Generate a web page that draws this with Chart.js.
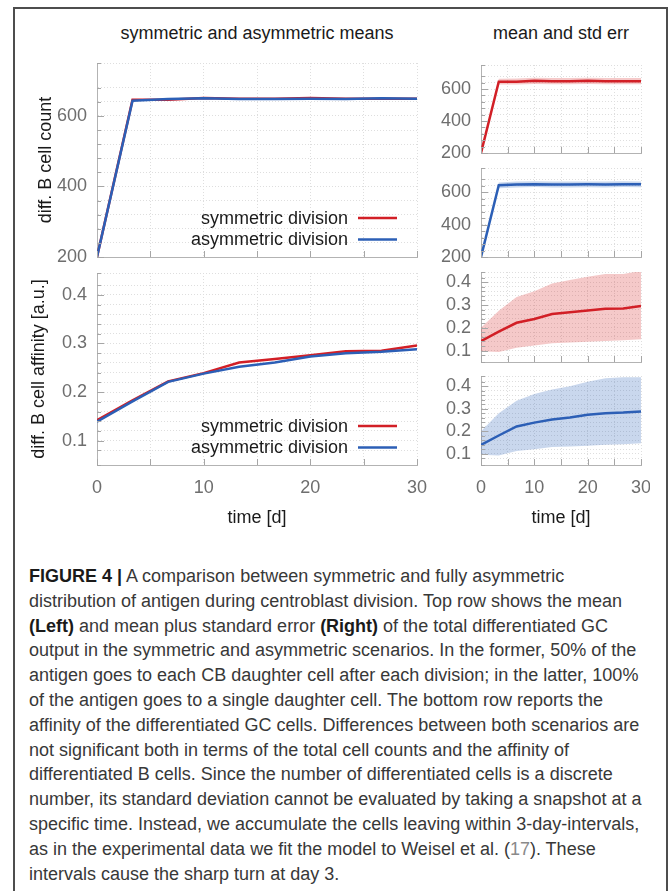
<!DOCTYPE html>
<html>
<head>
<meta charset="utf-8">
<script src="https://cdn.jsdelivr.net/npm/chart.js@4.4.1/dist/chart.umd.min.js"></script>
<style>
  html, body { margin: 0; padding: 0; background: #fff; }
  body {
    width: 670px; height: 891px; position: relative; overflow: hidden;
    font-family: "Liberation Sans", Arial, sans-serif;
  }
  .frame {
    position: absolute; left: 13px; top: 7px; width: 655px; height: 900px;
    border: 2px solid #4d4d4d; border-bottom: none; box-sizing: border-box;
  }
  .panel-title {
    position: absolute; top: 23px; font-size: 18px; line-height: 21px;
    color: #1a1a1a; transform: translateX(-50%); white-space: nowrap;
  }
  canvas.plot { position: absolute; }
  .caption {
    position: absolute; left: 29px; top: 564px;
    font-size: 18px; line-height: 24.8px; color: #383838;
  }
  .caption div { white-space: nowrap; }
  .caption b { color: #1a1a1a; }
  .caption .ref { color: #8a8a8a; }
</style>
</head>
<body>
<div class="frame"></div>

<div class="panel-title" style="left:257px">symmetric and asymmetric means</div>
<div class="panel-title" style="left:561px">mean and std err</div>

<canvas class="plot" id="count-means"></canvas>
<canvas class="plot" id="affinity-means"></canvas>
<canvas class="plot" id="count-sym"></canvas>
<canvas class="plot" id="count-asym"></canvas>
<canvas class="plot" id="affinity-sym"></canvas>
<canvas class="plot" id="affinity-asym"></canvas>

<div class="caption">
  <div><b>FIGURE 4 |</b> A comparison between symmetric and fully asymmetric</div>
  <div>distribution of antigen during centroblast division. Top row shows the mean</div>
  <div><b>(Left)</b> and mean plus standard error <b>(Right)</b> of the total differentiated GC</div>
  <div>output in the symmetric and asymmetric scenarios. In the former, 50% of the</div>
  <div>antigen goes to each CB daughter cell after each division; in the latter, 100%</div>
  <div>of the antigen goes to a single daughter cell. The bottom row reports the</div>
  <div>affinity of the differentiated GC cells. Differences between both scenarios are</div>
  <div>not significant both in terms of the total cell counts and the affinity of</div>
  <div>differentiated B cells. Since the number of differentiated cells is a discrete</div>
  <div>number, its standard deviation cannot be evaluated by taking a snapshot at a</div>
  <div>specific time. Instead, we accumulate the cells leaving within 3-day-intervals,</div>
  <div>as in the experimental data we fit the model to Weisel et al. (<span class="ref">17</span>). These</div>
  <div>intervals cause the sharp turn at day 3.</div>
</div>

<script>
// ── Data ────────────────────────────────────────────────────

const days = [0, 3.33, 6.67, 10, 13.33, 16.67, 20, 23.33, 26.67, 30];

const countSym  = [200, 646, 646, 651, 649, 649, 651, 649, 649, 649];
const countAsym = [200, 643, 648, 650, 648, 648, 649, 648, 650, 649];
const countSymHi  = [200, 664, 666, 670, 668, 668, 670, 668, 668, 668];
const countSymLo  = [200, 628, 628, 632, 630, 630, 632, 630, 630, 630];
const countAsymHi = [200, 661, 666, 668, 666, 666, 667, 666, 668, 667];
const countAsymLo = [200, 625, 630, 632, 630, 630, 631, 630, 632, 631];

const affSym  = [0.142, 0.183, 0.222, 0.239, 0.261, 0.268, 0.276, 0.284, 0.285, 0.296];
const affAsym = [0.139, 0.181, 0.221, 0.238, 0.252, 0.261, 0.273, 0.280, 0.283, 0.288];
const affSymHi  = [0.200, 0.275, 0.335, 0.360, 0.395, 0.410, 0.424, 0.436, 0.436, 0.450];
const affSymLo  = [0.097, 0.094, 0.112, 0.122, 0.132, 0.136, 0.139, 0.142, 0.145, 0.150];
const affAsymHi = [0.200, 0.280, 0.335, 0.365, 0.385, 0.400, 0.420, 0.435, 0.440, 0.440];
const affAsymLo = [0.096, 0.092, 0.112, 0.120, 0.130, 0.132, 0.135, 0.140, 0.142, 0.147];

const countTicks = [200, 400, 600];
const affinityTicks = [0.1, 0.2, 0.3, 0.4];
const timeTicks = [0, 10, 20, 30];

const SYM_LABEL = "symmetric division";
const ASYM_LABEL = "asymmetric division";

// ── Styling ─────────────────────────────────────────────────

const RED = "#d21f26";
const BLUE = "#2c5fb6";
const RED_BAND = "rgba(220, 60, 60, 0.28)";
const BLUE_BAND = "rgba(60, 110, 190, 0.28)";
const FONT = "'Liberation Sans', Arial, sans-serif";
const TICK_COLOR = "#6e6e6e";
const TEXT_COLOR = "#1a1a1a";

Chart.defaults.font.family = FONT;
Chart.defaults.font.size = 18;

// ── Helpers ─────────────────────────────────────────────────

function toPoints(values) {
  return values.map((v, i) => ({ x: days[i], y: v }));
}

// order: lower number is painted last, so blue sits on top of red
function lineDataset(label, values, color, order) {
  return {
    label, data: toPoints(values), inLegend: true, order,
    borderColor: color, borderWidth: 2.5, pointRadius: 0, fill: false, tension: 0,
  };
}

function bandDatasets(hi, lo, color) {
  return [
    { label: "upper", data: toPoints(hi), borderWidth: 0, pointRadius: 0,
      backgroundColor: color, fill: "+1", order: 5 },
    { label: "lower", data: toPoints(lo), borderWidth: 0, pointRadius: 0, fill: false, order: 5 },
  ];
}

function isListed(v, list) {
  return list.some(t => Math.abs(t - v) < 1e-6);
}

// fixed axis sizes so every panel lines up with its neighbours
function fixSize(size) {
  return scale => {
    if (scale.isHorizontal()) scale.height = size;
    else scale.width = size;
    scale.paddingLeft = scale.paddingRight = 0;
    scale.paddingTop = scale.paddingBottom = 0;
  };
}

// gnuplot-style ticks pointing into the plot
const innerTicks = {
  id: "innerTicks",
  afterDraw(chart) {
    const { ctx, chartArea: a, scales } = chart;
    ctx.save();
    ctx.strokeStyle = "#a6a6a6";
    ctx.lineWidth = 1;
    ctx.beginPath();
    scales.y.ticks.forEach(t => {
      const py = Math.round(scales.y.getPixelForValue(t.value)) + 0.5;
      ctx.moveTo(a.left, py);
      ctx.lineTo(a.left + (t.label ? 7 : 4), py);
    });
    scales.x.ticks.forEach(t => {
      const px = Math.round(scales.x.getPixelForValue(t.value)) + 0.5;
      ctx.moveTo(px, a.bottom);
      ctx.lineTo(px, a.bottom - 6);
    });
    ctx.stroke();
    ctx.restore();
  },
};

// key drawn inside the plot, lower right, like the original
const insideLegend = {
  id: "insideLegend",
  afterDraw(chart, args, opts) {
    if (!opts.show) return;
    const { ctx, chartArea: a } = chart;
    const items = chart.data.datasets.filter(d => d.inLegend);
    ctx.save();
    ctx.font = `18px ${FONT}`;
    ctx.textAlign = "right";
    ctx.textBaseline = "middle";
    items.forEach((d, i) => {
      const y = a.bottom - 39 + i * 21.5;
      ctx.fillStyle = TEXT_COLOR;
      ctx.fillText(d.label, a.right - 69, y + 1);
      ctx.strokeStyle = d.borderColor;
      ctx.lineWidth = 2.5;
      ctx.beginPath();
      ctx.moveTo(a.right - 59, y);
      ctx.lineTo(a.right - 20, y);
      ctx.stroke();
    });
    ctx.restore();
  },
};

function makePlot(id, box, cfg) {
  const canvas = document.getElementById(id);
  canvas.width = box.width;
  canvas.height = box.height;
  canvas.style.left = box.left + "px";
  canvas.style.top = box.top + "px";

  const gridStyle = { color: "#dedede", drawTicks: false, tickLength: 0 };
  const borderStyle = { color: "#b3b3b3", width: 1, dash: [1, 2] };

  return new Chart(canvas, {
    type: "line",
    data: { datasets: cfg.datasets },
    options: {
      responsive: false,
      animation: false,
      layout: { padding: { top: cfg.padTop, right: cfg.padRight, left: 0, bottom: 0 } },
      plugins: {
        legend: { display: false },
        tooltip: { enabled: false },
        insideLegend: { show: !!cfg.legend },
      },
      scales: {
        x: {
          type: "linear", min: 0, max: 30,
          grid: gridStyle, border: borderStyle,
          ticks: {
            display: cfg.showX, stepSize: 5, autoSkip: false, maxRotation: 0,
            color: TICK_COLOR, padding: 12,
            callback: v => (isListed(v, timeTicks) ? String(v) : ""),
          },
          title: {
            display: cfg.showX, text: "time [d]", color: TEXT_COLOR,
            padding: { top: 0, bottom: 1 },
          },
          afterFit: fixSize(cfg.xH),
        },
        y: {
          min: cfg.y.min, max: cfg.y.max,
          grid: gridStyle, border: borderStyle,
          ticks: {
            stepSize: cfg.y.step, autoSkip: false, color: TICK_COLOR, padding: 10,
            callback: v => (isListed(v, cfg.y.labels) ? cfg.y.format(v) : ""),
          },
          title: {
            display: !!cfg.yTitle, text: cfg.yTitle || "", color: TEXT_COLOR,
            padding: { top: cfg.yTitlePad || 0, bottom: 0 },
          },
          afterFit: fixSize(cfg.yW),
        },
      },
    },
    plugins: [innerTicks, insideLegend],
  });
}

// ── Panels ──────────────────────────────────────────────────

const countAxis = { min: 200, max: 750, step: 40, labels: countTicks, format: v => String(v) };
const affinityAxis = { min: 0.05, max: 0.445, step: 0.02, labels: affinityTicks, format: v => v.toFixed(1) };

// left column: both scenarios on one plot
const leftCol = { yW: 83, padTop: 8, padRight: 17 };

makePlot("count-means", { left: 14, top: 55, width: 420, height: 215 }, {
  ...leftCol, xH: 13, showX: false, legend: true,
  y: countAxis, yTitle: "diff. B cell count", yTitlePad: 21,
  datasets: [lineDataset(SYM_LABEL, countSym, RED, 2), lineDataset(ASYM_LABEL, countAsym, BLUE, 1)],
});

makePlot("affinity-means", { left: 14, top: 265, width: 420, height: 265 }, {
  ...leftCol, xH: 65, showX: true, legend: true,
  y: affinityAxis, yTitle: "diff. B cell affinity [a.u.]", yTitlePad: 14,
  datasets: [lineDataset(SYM_LABEL, affSym, RED, 2), lineDataset(ASYM_LABEL, affAsym, BLUE, 1)],
});

// right column: each scenario with its standard-error band
const rightCol = { yW: 45, padTop: 7, padRight: 9 };

makePlot("count-sym", { left: 436, top: 58, width: 214, height: 103 }, {
  ...rightCol, xH: 8, showX: false, y: countAxis,
  datasets: [lineDataset(SYM_LABEL, countSym, RED, 1), ...bandDatasets(countSymHi, countSymLo, RED_BAND)],
});

makePlot("count-asym", { left: 436, top: 161, width: 214, height: 104 }, {
  ...rightCol, xH: 8, showX: false, y: countAxis,
  datasets: [lineDataset(ASYM_LABEL, countAsym, BLUE, 1), ...bandDatasets(countAsymHi, countAsymLo, BLUE_BAND)],
});

makePlot("affinity-sym", { left: 436, top: 265, width: 214, height: 105 }, {
  ...rightCol, xH: 8, showX: false, y: affinityAxis,
  datasets: [lineDataset(SYM_LABEL, affSym, RED, 1), ...bandDatasets(affSymHi, affSymLo, RED_BAND)],
});

makePlot("affinity-asym", { left: 436, top: 369, width: 214, height: 161 }, {
  ...rightCol, xH: 65, showX: true, y: affinityAxis,
  datasets: [lineDataset(ASYM_LABEL, affAsym, BLUE, 1), ...bandDatasets(affAsymHi, affAsymLo, BLUE_BAND)],
});
</script>
</body>
</html>
